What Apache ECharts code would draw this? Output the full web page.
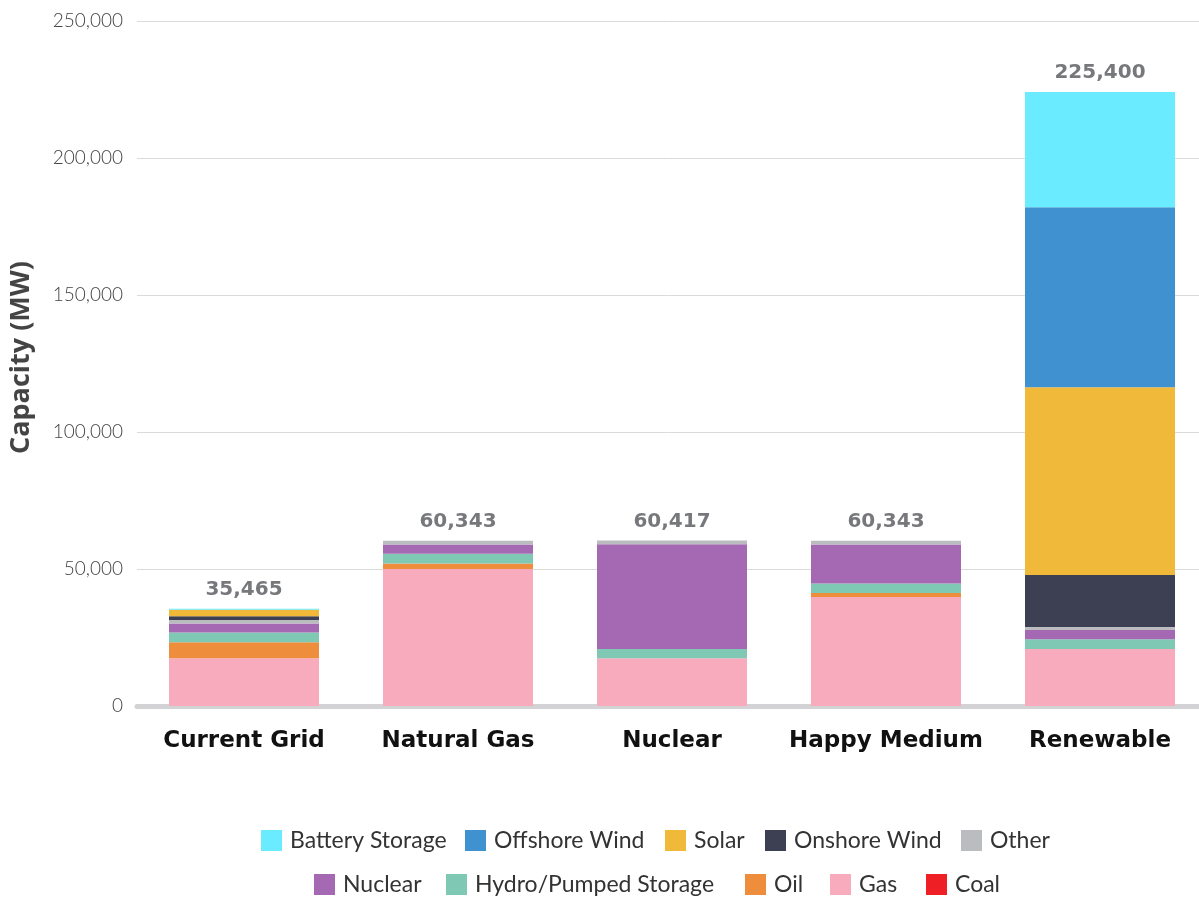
<!DOCTYPE html>
<html>
<head>
<meta charset="utf-8">
<script src="https://cdn.jsdelivr.net/npm/echarts@6/dist/echarts.min.js"></script>
<style>html,body{margin:0;padding:0;background:#fff}#c{width:1199px;height:899px}</style>
</head>
<body>
<div id="c"></div>
<script>
const categories = ["Current Grid", "Natural Gas", "Nuclear", "Happy Medium", "Renewable"];
const coal     = [0, 0, 0, 0, 0];
const gas      = [17400, 50000, 17400, 39800, 20800];
const oil      = [5900, 2000, 0, 1400, 0];
const hydro    = [3500, 3600, 3400, 3500, 3600];
const nuclear  = [3300, 3300, 38217, 14200, 3300];
const other    = [1300, 1443, 1400, 1443, 1100];
const onshore  = [1400, 0, 0, 0, 19000];
const solar    = [2300, 0, 0, 0, 68500];
const offshore = [0, 0, 0, 0, 65700];
const battery  = [365, 0, 0, 0, 42100];
const totals   = [35465, 60343, 60417, 60343, 225400];
const yTicks   = [0, 50000, 100000, 150000, 200000, 250000];

const seriesDefs = [
  ["Coal", coal, "#ee2025"],
  ["Gas", gas, "#f7abbd"],
  ["Oil", oil, "#ee8e3c"],
  ["Hydro/Pumped Storage", hydro, "#7ec8b4"],
  ["Nuclear", nuclear, "#a569b3"],
  ["Other", other, "#bbbcc0"],
  ["Onshore Wind", onshore, "#3d3f52"],
  ["Solar", solar, "#f1b93a"],
  ["Offshore Wind", offshore, "#3f92cf"],
  ["Battery Storage", battery, "#6aebff"]
];

const stackTops = categories.map((_, i) => seriesDefs.reduce((s, d) => s + d[1][i], 0));

const series = seriesDefs.map(([name, data, color]) => ({
  name, type: "bar", stack: "total", data, barWidth: 150,
  itemStyle: { color }, emphasis: { disabled: true }
}));
series.push({
  name: "totals", type: "scatter", data: stackTops, symbolSize: 0, silent: true,
  label: {
    show: true, position: "top", distance: 9,
    formatter: p => totals[p.dataIndex].toLocaleString("en-US"),
    fontFamily: "DejaVu Sans", fontWeight: "bold", fontSize: 20, color: "#55565a"
  }
});

// legend item placement (layout only)
const legendRows = [
  { names: ["Battery Storage", "Offshore Wind", "Solar", "Onshore Wind", "Other"], lefts: [261, 465, 665, 765, 961], top: 829 },
  { names: ["Nuclear", "Hydro/Pumped Storage", "Oil", "Gas", "Coal"], lefts: [314, 446, 745, 830, 926], top: 873 }
];
const legendText = { fontFamily: "Lato", fontSize: 23, color: "#333", padding: [0, 0, 0, 3] };
const legends = [];
legendRows.forEach(r => r.names.forEach((n, i) => legends.push({
  data: [n], left: r.lefts[i], top: r.top, itemWidth: 21, itemHeight: 21, icon: "rect",
  textStyle: legendText, selectedMode: false, padding: 0
})));

const chart = echarts.init(document.getElementById("c"));
chart.setOption({
  animation: false,
  grid: { left: 137, width: 1070, top: 21, bottom: 193, containLabel: false, outerBoundsMode: "none" },
  legend: legends,
  xAxis: {
    type: "category", data: categories,
    axisLine: { lineStyle: { color: "#d3d3d5", width: 5 } },
    axisTick: { show: false },
    axisLabel: { fontFamily: "DejaVu Sans", fontWeight: "bold", fontSize: 23, color: "#111", margin: 24, interval: 0 }
  },
  yAxis: {
    type: "value", min: yTicks[0], max: yTicks[yTicks.length - 1], interval: 50000,
    name: "Capacity (MW)", nameLocation: "middle", nameRotate: 90, nameGap: 102,
    nameTextStyle: { fontFamily: "Open Sans", fontWeight: "bold", fontSize: 27, color: "#444", padding: [0, 0, 0, 12] },
    axisLine: { show: false }, axisTick: { show: false },
    splitLine: { lineStyle: { color: "#dadada", width: 1 } },
    axisLabel: { fontFamily: "Lato", fontWeight: 300, fontSize: 19, color: "#444", margin: 14,
      formatter: v => v.toLocaleString("en-US") }
  },
  series
});
</script>
</body>
</html>
